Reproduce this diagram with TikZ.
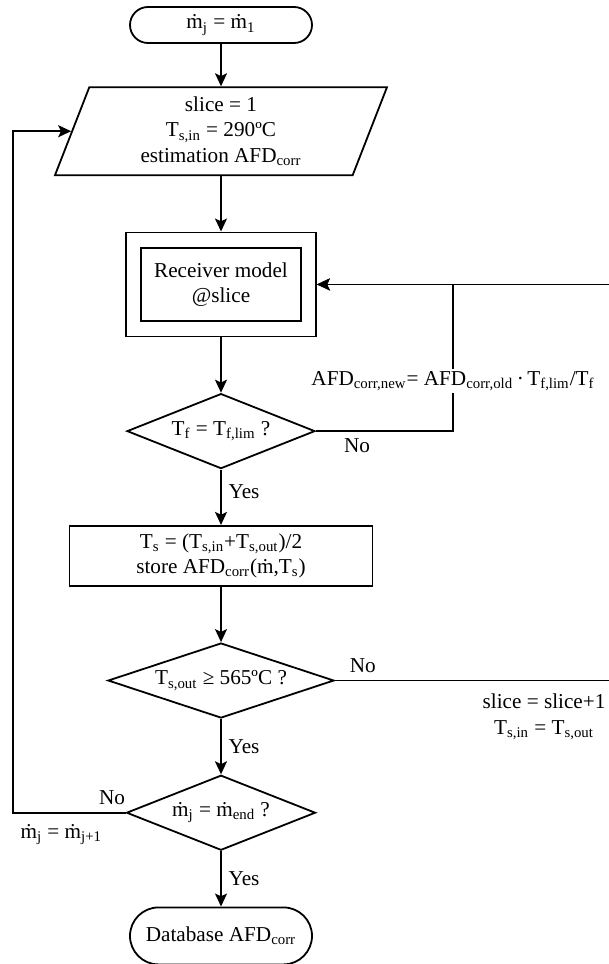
\documentclass[tikz,border=0pt]{standalone}
\usepackage{fontspec}
\setmainfont{Liberation Serif}
\usetikzlibrary{arrows.meta,positioning,shapes.geometric,shapes.misc}

\begin{document}
\begin{tikzpicture}[
  node distance=27.7pt,
  font=\fontsize{10.6pt}{12.6pt}\selectfont,
  line width=0.9pt,
  >={Stealth[length=6.5pt, width=6pt, inset=1.4pt]},
  term/.style={draw, rounded rectangle, minimum width=95pt, inner sep=2pt},
  io/.style={draw, trapezium, trapezium left angle=63.4, trapezium right angle=116.6,
    trapezium stretches body, minimum width=166pt, minimum height=44pt, align=center, inner sep=0pt},
  box/.style={draw, align=center, inner sep=2pt},
  test/.style={draw, diamond, shape aspect=3, inner sep=0pt, minimum height=37.5pt}
]
\useasboundingbox (0,0) rectangle (304.5pt,-482pt);
\clip (0,0) rectangle (304.5pt,-482pt);

% main column
\node[term, minimum height=18pt] (start) at (110.5pt,-12.5pt) {\.m\textsubscript{j} = \.m\textsubscript{1}};
\node[io, below=21.2pt of start] (init) {slice = 1\\T\textsubscript{s,in} = 290ºC\\estimation AFD\textsubscript{corr}};
\node[draw, minimum width=95pt, minimum height=52pt, below=of init] (rcv) {};
\node[box, minimum width=80pt, minimum height=36.5pt] (model) at (rcv) {Receiver model\\@slice};
\node[test, minimum width=94pt, below=of rcv] (tf) {T\textsubscript{f} = T\textsubscript{f,lim} ?};
\node[box, minimum width=151.5pt, minimum height=30pt, below=of tf] (store)
  {T\textsubscript{s} = (T\textsubscript{s,in}+T\textsubscript{s,out})/2\\store AFD\textsubscript{corr}(\.m,T\textsubscript{s})};
\node[test, minimum width=113pt, below=of store] (tout) {T\textsubscript{s,out} ≥ 565ºC ?};
\node[test, minimum width=94.5pt, below=of tout] (mend) {\.m\textsubscript{j} = \.m\textsubscript{end} ?};
\node[term, minimum height=28.5pt, below=of mend] (db) {Database AFD\textsubscript{corr}};

% x positions of the loop lines
\coordinate (fb) at (226.5pt,0);
\coordinate (rt) at (306.5pt,0);
\coordinate (lt) at (6.5pt,0);

\draw[->] (start) -- (init);
\draw[->] (init) -- (rcv);
\draw[->] (rcv) -- (tf);
\draw[->] (tf) -- node[right, pos=.4]{Yes} (store);
\draw[->] (store) -- (tout);
\draw[->] (tout) -- node[right]{Yes} (mend);
\draw[->] (mend) -- node[right]{Yes} (db);

% correction loop
\draw[->] (tf.east) -- node[below, pos=.3]{No} (tf.east -| fb)
  -- node[fill=white, inner sep=1pt, pos=.34]{AFD\textsubscript{corr,new}= AFD\textsubscript{corr,old}\,·\,T\textsubscript{f,lim}/T\textsubscript{f}} (rcv.east -| fb)
  -- (rcv.east);
% next slice
\draw[->] (tout.east) -- node[above, pos=.1]{No} (tout.east -| rt)
  node[below left, align=center, yshift=-3pt]{slice = slice+1\\T\textsubscript{s,in} = T\textsubscript{s,out}}
  -- (rcv.east -| rt) -- (rcv.east);
% next mass flow
\draw[->] (mend.west) -- node[above, pos=.12]{No} (mend.west -| lt)
  node[below right, yshift=-2pt]{\.m\textsubscript{j} = \.m\textsubscript{j+1}}
  |- (init.left side);
\end{tikzpicture}
\end{document}
